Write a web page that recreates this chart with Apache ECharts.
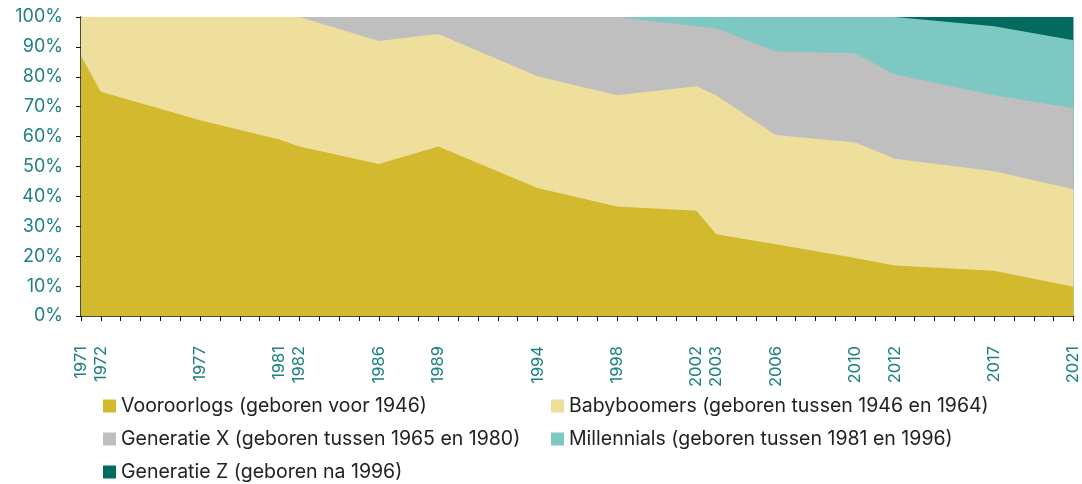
<!DOCTYPE html>
<head>
    <meta charset="UTF-8">
    <title>ECharts</title>
</head>
<body style="margin:0">
<div id="main" style="width:1082px;height:484px"></div>
<script src="https://cdn.jsdelivr.net/npm/echarts@6/dist/echarts.min.js"></script>
<script type="text/javascript">
    // jaren met een meting (ook de labels op de x-as)
    var years = [1971, 1972, 1977, 1981, 1982, 1986, 1989, 1994, 1998, 2002, 2003, 2006, 2010, 2012, 2017, 2021];

    // aandeel per generatie in %
    var vooroorlogs  = [87, 75, 65.5, 59, 56.7, 50.8, 56.7, 42.8, 36.6, 35.2, 27.3, 24, 19.4, 16.9, 15.1, 9.8];
    var babyboomers  = [13, 25, 34.5, 41, 43.3, 41.2, 37.6, 37.4, 37.2, 41.6, 46.5, 36.5, 38.6, 35.7, 33.3, 32.6];
    var generatieX   = [0, 0, 0, 0, 0, 8, 5.7, 19.8, 26.2, 20.1, 22.4, 28, 29.9, 28.2, 25.4, 27.1];
    var millennials  = [0, 0, 0, 0, 0, 0, 0, 0, 0, 3.1, 3.8, 11.5, 12.1, 19.2, 23.1, 22.7];
    var generatieZ   = [0, 0, 0, 0, 0, 0, 0, 0, 0, 0, 0, 0, 0, 0, 3.1, 7.8];

    var names = [
        'Vooroorlogs (geboren voor 1946)',
        'Babyboomers (geboren tussen 1946 en 1964)',
        'Generatie X (geboren tussen 1965 en 1980)',
        'Millennials (geboren tussen 1981 en 1996)',
        'Generatie Z (geboren na 1996)'
    ];
    var colors = ['#d2b92e', '#efdf9d', '#bfbfbf', '#7ec8c3', '#006b5e'];
    var values = [vooroorlogs, babyboomers, generatieX, millennials, generatieZ];

    // stapelen: elke laag tekent van 0 tot zijn cumulatieve top,
    // de bovenste laag eerst zodat de lagere lagen eroverheen liggen
    var series = [];
    for (var s = names.length - 1; s >= 0; s--) {
        var data = [];
        for (var i = 0; i < years.length; i++) {
            var sum = 0;
            for (var k = 0; k <= s; k++) sum += values[k][i];
            data.push([years[i], Math.min(sum, 100)]);
        }
        series.push({
            name: names[s],
            type: 'line',
            data: data,
            showSymbol: false,
            lineStyle: { width: 0 },
            areaStyle: { color: colors[s], opacity: 1 },
            itemStyle: { color: colors[s] }
        });
    }

    var legendText = {
        color: '#222',
        fontSize: 19.5,
        fontFamily: 'Inter',
        lineHeight: 20
    };

    var option = {
        animation: false,
        grid: {
            left: 81,
            right: 7,
            top: 17,
            bottom: 168
        },
        xAxis: {
            type: 'value',
            min: 1971,
            max: 2021,
            interval: 1,
            axisLine: { lineStyle: { color: '#111', width: 1.5 } },
            axisTick: { length: 5, lineStyle: { color: '#111' } },
            splitLine: { show: false },
            axisLabel: {
                rotate: 90,
                margin: 30,
                color: '#1f8082',
                fontSize: 16.5,
                fontFamily: 'Inter',
                showMinLabel: true,
                showMaxLabel: true,
                formatter: function (v) {
                    return years.indexOf(v) >= 0 ? String(v) : '';
                }
            }
        },
        yAxis: {
            type: 'value',
            min: 0,
            max: 100,
            interval: 10,
            axisLine: { show: true, lineStyle: { color: '#111', width: 1.5 } },
            axisTick: { show: true, length: 5, lineStyle: { color: '#111' } },
            splitLine: { show: false },
            axisLabel: {
                margin: 18,
                color: '#1f8082',
                fontSize: 18,
                fontFamily: 'Inter',
                formatter: '{value}%'
            }
        },
        legend: [
            {
                left: 103,
                top: 396,
                padding: 0,
                orient: 'vertical',
                itemWidth: 13,
                itemHeight: 13,
                itemGap: 13,
                icon: 'rect',
                data: [names[0], names[2], names[4]],
                textStyle: legendText
            },
            {
                left: 551,
                top: 396,
                padding: 0,
                orient: 'vertical',
                itemWidth: 13,
                itemHeight: 13,
                itemGap: 13,
                icon: 'rect',
                data: [names[1], names[3]],
                textStyle: legendText
            }
        ],
        series: series
    };

    var myChart = echarts.init(document.getElementById('main'));
    myChart.setOption(option);
</script>
</body>
